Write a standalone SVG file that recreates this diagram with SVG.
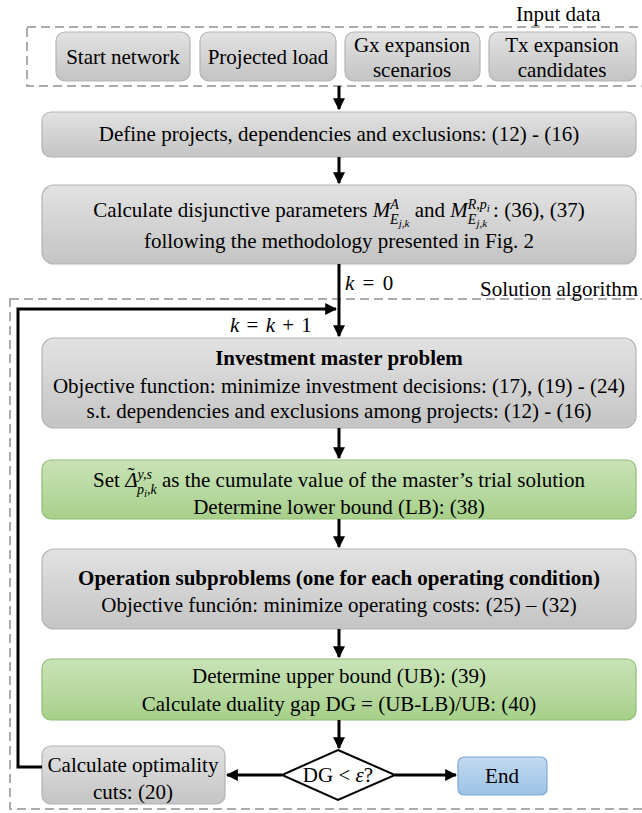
<svg xmlns="http://www.w3.org/2000/svg" width="642" height="813" viewBox="0 0 642 813">
<style>
.t{font-size:21px;fill:#000}
.c{text-anchor:middle}
.b{font-weight:bold}
.m{font-style:italic}
.gray{fill:url(#gg);stroke:#b3b3b3;stroke-width:1.2}
.green{fill:url(#gn);stroke:#8fbf6f;stroke-width:1.2}
.blue{fill:url(#gb);stroke:#7fa9d6;stroke-width:1.2}
.dash{fill:none;stroke:#ababab;stroke-width:2;stroke-dasharray:9,5}
.ln{fill:none;stroke:#000;stroke-width:3}
</style>
<defs>
<linearGradient id="gg" x1="0" y1="0" x2="0" y2="1"><stop offset="0" stop-color="#e2e2e2"/><stop offset="1" stop-color="#c4c4c4"/></linearGradient>
<linearGradient id="gn" x1="0" y1="0" x2="0" y2="1"><stop offset="0" stop-color="#c9e3b8"/><stop offset="1" stop-color="#a7d08a"/></linearGradient>
<linearGradient id="gb" x1="0" y1="0" x2="0" y2="1"><stop offset="0" stop-color="#c3daf0"/><stop offset="1" stop-color="#9cc2e6"/></linearGradient>
<marker id="ah" viewBox="0 0 10 10" refX="9" refY="5" markerWidth="4" markerHeight="4" orient="auto" markerUnits="strokeWidth"><path d="M0,0 L10,5 L0,10 z" fill="#000"/></marker>
</defs>
<g id="input-data">
<rect class="dash" x="27" y="27" width="625" height="59"/>
<text class="t" font-family="Liberation Serif" x="516" y="21">Input data</text>
</g>
<g id="solution-algorithm">
<rect class="dash" x="10" y="299" width="642" height="510"/>
<text class="t" font-family="Liberation Serif" x="480" y="296">Solution algorithm</text>
</g>

<g id="start-network"><rect class="gray" x="56" y="32" width="134" height="49" rx="9"/><text class="t c" font-family="Liberation Serif" x="123" y="64">Start network</text></g>
<g id="projected-load"><rect class="gray" x="200" y="32" width="136" height="49" rx="9"/><text class="t c" font-family="Liberation Serif" x="268" y="64">Projected load</text></g>
<g id="gx-expansion"><rect class="gray" x="345" y="32" width="135" height="49" rx="9"/><text class="t c" font-family="Liberation Serif" x="412" y="52">Gx expansion</text><text class="t c" font-family="Liberation Serif" x="412" y="77">scenarios</text></g>
<g id="tx-expansion"><rect class="gray" x="489" y="32" width="147" height="49" rx="9"/><text class="t c" font-family="Liberation Serif" x="562" y="52">Tx expansion</text><text class="t c" font-family="Liberation Serif" x="562" y="77">candidates</text></g>

<g id="define-projects"><rect class="gray" x="42" y="112" width="594" height="45" rx="9"/><text class="t c" font-family="Liberation Serif" x="339" y="141">Define projects, dependencies and exclusions: (12) - (16)</text></g>

<g id="disjunctive"><rect class="gray" x="42" y="185" width="594" height="79" rx="12"/>
<text class="t c" font-family="Liberation Serif" x="339" y="217">Calculate disjunctive parameters <tspan class="m">M</tspan><tspan class="m" font-size="14" dy="-8">A</tspan><tspan class="m" font-size="14" dx="-8.6" dy="15">E</tspan><tspan class="m" font-size="11" dy="3">j,k</tspan><tspan dy="-10"> and </tspan><tspan class="m">M</tspan><tspan class="m" font-size="14" dy="-8">R,p</tspan><tspan class="m" font-size="11" dy="3">i</tspan><tspan class="m" font-size="14" dx="-22" dy="12">E</tspan><tspan class="m" font-size="11" dy="3">j,k</tspan><tspan dx="6" dy="-10">: (36), (37)</tspan></text>
<text class="t c" font-family="Liberation Serif" x="339" y="248">following the methodology presented in Fig. 2</text></g>

<g id="investment-master"><rect class="gray" x="42" y="338" width="594" height="90" rx="12"/>
<text class="t c b" font-family="Liberation Serif" x="339" y="365">Investment master problem</text>
<text class="t c" font-family="Liberation Serif" x="339" y="393">Objective function: minimize investment decisions: (17), (19) - (24)</text>
<text class="t c" font-family="Liberation Serif" x="339" y="418">s.t. dependencies and exclusions among projects: (12) - (16)</text></g>

<g id="set-delta"><rect class="green" x="42" y="460" width="594" height="59" rx="9"/>
<text class="t c" font-family="Liberation Serif" x="339" y="487">Set <tspan class="m">Δ</tspan><tspan dx="-10" dy="-5">˜</tspan><tspan class="m" font-size="14" dx="3" dy="-3">y,s</tspan><tspan class="m" font-size="14" dx="-15" dy="15">p</tspan><tspan class="m" font-size="11" dy="3">i</tspan><tspan class="m" font-size="14" dy="-3">,k</tspan><tspan dy="-7"> as the cumulate value of the master’s trial solution</tspan></text>
<text class="t c" font-family="Liberation Serif" x="339" y="514">Determine lower bound (LB): (38)</text></g>

<g id="operation-subproblems"><rect class="gray" x="42" y="549" width="594" height="80" rx="12"/>
<text class="t c b" font-family="Liberation Serif" x="339" y="585">Operation subproblems (one for each operating condition)</text>
<text class="t c" font-family="Liberation Serif" x="339" y="612">Objective función: minimize operating costs: (25) – (32)</text></g>

<g id="upper-bound"><rect class="green" x="42" y="659" width="594" height="61" rx="9"/>
<text class="t c" font-family="Liberation Serif" x="339" y="683">Determine upper bound (UB): (39)</text>
<text class="t c" font-family="Liberation Serif" x="339" y="711">Calculate duality gap DG = (UB-LB)/UB: (40)</text></g>

<g id="optimality-cuts"><rect class="gray" x="42" y="746" width="183" height="58" rx="9"/>
<text class="t c" font-family="Liberation Serif" x="133" y="772">Calculate optimality</text>
<text class="t c" font-family="Liberation Serif" x="133" y="799">cuts: (20)</text></g>

<g id="decision"><path d="M338,750 L395,775 L338,800 L282,775 z" fill="#fff" stroke="#000" stroke-width="2"/>
<text class="t c" font-family="Liberation Serif" x="338" y="782">DG &lt; <tspan class="m">ε</tspan>?</text></g>

<g id="end"><rect class="blue" x="458" y="757" width="89" height="38" rx="6"/><text class="t c" font-family="Liberation Serif" x="502" y="783">End</text></g>

<g id="connectors">
<line class="ln" x1="339" y1="86" x2="339" y2="109" marker-end="url(#ah)"/>
<line class="ln" x1="339" y1="157" x2="339" y2="183" marker-end="url(#ah)"/>
<line class="ln" x1="339" y1="264" x2="339" y2="336" marker-end="url(#ah)"/>
<text class="t" font-family="Liberation Serif" x="345" y="290" word-spacing="3"><tspan class="m">k</tspan> = 0</text>
<line class="ln" x1="339" y1="428" x2="339" y2="458" marker-end="url(#ah)"/>
<line class="ln" x1="339" y1="519" x2="339" y2="547" marker-end="url(#ah)"/>
<line class="ln" x1="339" y1="629" x2="339" y2="657" marker-end="url(#ah)"/>
<line class="ln" x1="339" y1="720" x2="339" y2="748" marker-end="url(#ah)"/>
<line class="ln" x1="282" y1="775" x2="227" y2="775" marker-end="url(#ah)"/>
<line class="ln" x1="395" y1="775" x2="456" y2="775" marker-end="url(#ah)"/>
<polyline class="ln" points="42,767 18,767 18,309 336,309" marker-end="url(#ah)"/>
<text class="t" font-family="Liberation Serif" x="230" y="332" word-spacing="2"><tspan class="m">k</tspan> = <tspan class="m">k</tspan> + 1</text>
</g>
</svg>
